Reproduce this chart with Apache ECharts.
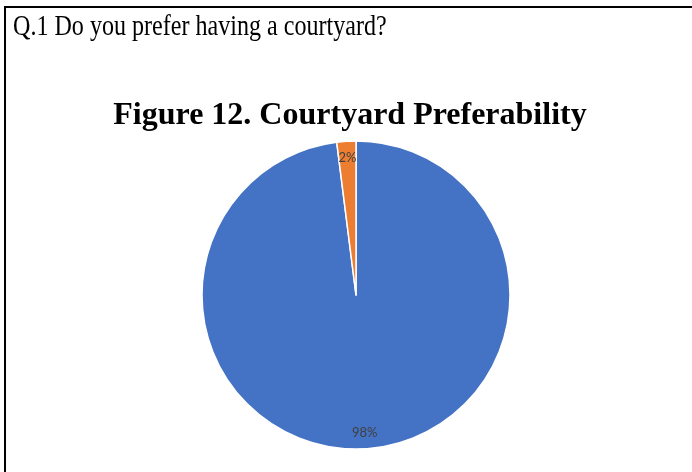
<!DOCTYPE html>
<html>
<head>
<meta charset="utf-8">
<script src="https://cdn.jsdelivr.net/npm/echarts@6/dist/echarts.min.js"></script>
<style>
  html, body { margin: 0; padding: 0; background: #fff; }
  #chart { width: 692px; height: 472px; }
</style>
</head>
<body>
<div id="chart"></div>
<script>
// answers to Q.1, in percent
const categories = ['Yes', 'No']
const shares = [98, 2]
const colors = ['#4472C4', '#ED7D31']

const question = 'Q.1 Do you prefer having a courtyard?'
const figureTitle = 'Figure 12. Courtyard Preferability'

const pieCenter = [356, 295]
const pieRadius = 154

const chart = echarts.init(document.getElementById('chart'))

chart.setOption({
  animation: false,
  title: {
    text: figureTitle,
    left: 345,
    textAlign: 'center',
    top: 95,
    textStyle: { fontFamily: 'Liberation Serif', fontWeight: 'bold', fontSize: 32, color: '#000' }
  },
  graphic: [
    // table cell border (top + left)
    { type: 'rect', shape: { x: 4, y: 6, width: 688, height: 2 }, style: { fill: '#000' } },
    { type: 'rect', shape: { x: 4, y: 6, width: 2, height: 466 }, style: { fill: '#000' } },
    {
      type: 'text', x: 13, y: 13, scaleX: 0.83,
      style: { text: question, font: '29px "Liberation Serif"', fill: '#000' }
    }
  ],
  series: [{
    type: 'pie',
    center: pieCenter,
    radius: pieRadius,
    startAngle: 90,
    clockwise: true,
    itemStyle: { borderColor: '#fff', borderWidth: 1.5 },
    label: {
      show: true,
      position: 'inside',
      formatter: '{d}%',
      fontFamily: 'Lato',
      fontSize: 13,
      color: '#404040'
    },
    // push the inside labels out toward the rim, like Excel does
    labelLayout: function (p) {
      const cx = p.labelRect.x + p.labelRect.width / 2
      const cy = p.labelRect.y + p.labelRect.height / 2
      const k = 0.72
      return { dx: (cx - pieCenter[0]) * k, dy: (cy - pieCenter[1]) * k }
    },
    data: categories.map((c, i) => ({ name: c, value: shares[i], itemStyle: { color: colors[i] } }))
  }]
})
</script>
</body>
</html>
